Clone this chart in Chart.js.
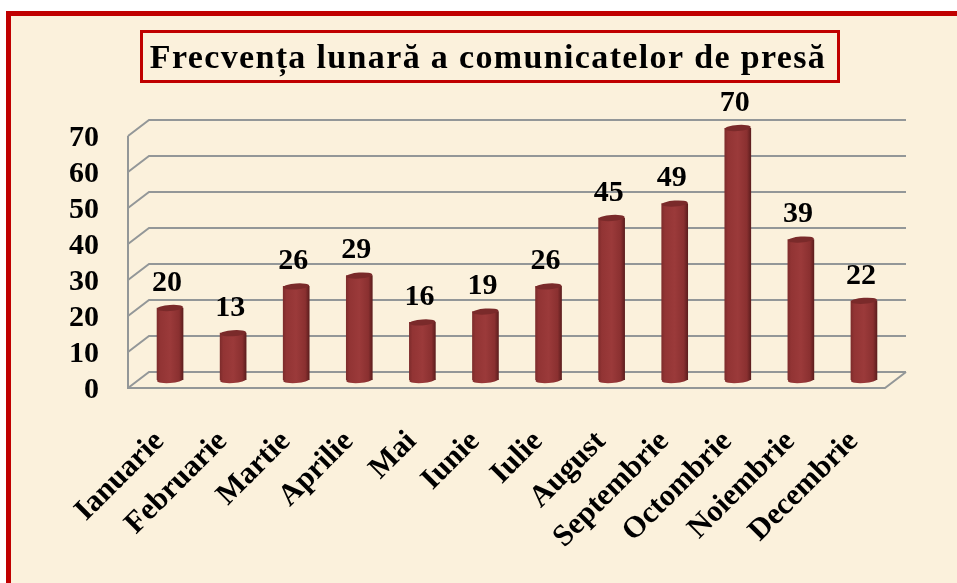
<!DOCTYPE html>
<html lang="ro">
<head>
<meta charset="utf-8">
<title>Frecvența lunară a comunicatelor de presă</title>
<script src="https://cdn.jsdelivr.net/npm/chart.js@4"></script>
<style>
  html, body { margin: 0; padding: 0; background: #fff; overflow: hidden; }
  #frame {
    position: absolute; left: 6px; top: 11px; width: 951px; height: 572px;
    background: #fbf1dc; border-left: 5px solid #c00000; border-top: 5px solid #c00000;
    box-sizing: border-box;
  }
  #chart { position: absolute; left: 0; top: 16px; }
</style>
</head>
<body>
<div id="frame"></div>
<canvas id="chart" width="957" height="567"></canvas>
<script>
const titleText = 'Frecvența lunară a comunicatelor de presă';
const months = ['Ianuarie', 'Februarie', 'Martie', 'Aprilie', 'Mai', 'Iunie', 'Iulie', 'August', 'Septembrie', 'Octombrie', 'Noiembrie', 'Decembrie'];
const counts = [20, 13, 26, 29, 16, 19, 26, 45, 49, 70, 39, 22];

const serif = '"Liberation Serif", "Times New Roman", serif';
const gridColor = '#939798';
const frameRed = '#c00000';
const depthX = 21;
const depthY = 16;
const barWidth = 26;
const capTilt = -0.07;

function barGradient(ctx) {
  const chart = ctx.chart;
  if (!chart.chartArea) return '#963535';
  const x = chart.scales.x.getPixelForValue(ctx.dataIndex);
  const g = chart.ctx.createLinearGradient(x - barWidth / 2, 0, x + barWidth / 2, 0);
  g.addColorStop(0, '#7e2c2c');
  g.addColorStop(0.12, '#923434');
  g.addColorStop(0.5, '#9b3a3a');
  g.addColorStop(0.85, '#8a3030');
  g.addColorStop(1, '#5e1e1e');
  return g;
}

// walls and floor of the fake 3D box, taken from the y ticks
const box3d = {
  id: 'box3d',
  afterLayout(chart) {
    // title is centred on the box, not on the canvas
    const block = chart.titleBlock;
    block.left = 91;
    block.right = chart.chartArea.right;
  },
  beforeDraw(chart) {
    // the title plugin has no letter spacing option
    const block = chart.titleBlock;
    if (block.spaced) return;
    const drawTitle = block.draw.bind(block);
    block.draw = (area) => {
      chart.ctx.letterSpacing = '1.35px';
      drawTitle(area);
      chart.ctx.letterSpacing = '0px';
    };
    block.spaced = true;
  },
  beforeDatasetsDraw(chart) {
    const { ctx, chartArea, scales } = chart;
    const { left, right, bottom, top } = chartArea;
    ctx.save();
    ctx.strokeStyle = gridColor;
    ctx.lineWidth = 2;
    scales.y.ticks.forEach((t) => {
      const y = scales.y.getPixelForValue(t.value);
      ctx.beginPath();
      ctx.moveTo(left, y);
      ctx.lineTo(left + depthX, y - depthY);
      ctx.lineTo(right + depthX, y - depthY);
      ctx.stroke();
    });
    ctx.beginPath();
    ctx.moveTo(left, top);
    ctx.lineTo(left, bottom);
    ctx.lineTo(right, bottom);
    ctx.lineTo(right + depthX, bottom - depthY);
    ctx.stroke();
    ctx.restore();

    // bars stand in the middle of the floor
    ctx.save();
    ctx.translate(depthX / 2, -depthY / 2);
  },
  afterDatasetsDraw(chart) {
    const ctx = chart.ctx;
    chart.getDatasetMeta(0).data.forEach((bar, i) => {
      const r = bar.width / 2;
      ctx.fillStyle = barGradient({ chart, dataIndex: i });
      ctx.beginPath();
      ctx.ellipse(bar.x, bar.base, r, 3, capTilt, 0, Math.PI * 2);
      ctx.fill();
      ctx.fillStyle = '#7a2a2a';
      ctx.beginPath();
      ctx.ellipse(bar.x, bar.y, r, 3, capTilt, 0, Math.PI * 2);
      ctx.fill();
      ctx.fillStyle = '#000';
      ctx.font = 'bold 30px ' + serif;
      ctx.textAlign = 'center';
      ctx.textBaseline = 'middle';
      ctx.fillText(counts[i], bar.x - 3, bar.y - 25);
    });
    ctx.restore();
  },
  afterDraw(chart) {
    const { ctx, titleBlock } = chart;
    const w = 697;
    const cx = (titleBlock.left + titleBlock.right) / 2 + 2;
    ctx.save();
    ctx.strokeStyle = frameRed;
    ctx.lineWidth = 3;
    ctx.strokeRect(cx - w / 2, 15.5, w, 50);
    ctx.restore();
  },
};

new Chart(document.getElementById('chart'), {
  type: 'bar',
  data: {
    labels: months,
    datasets: [{
      data: counts,
      backgroundColor: barGradient,
      barThickness: barWidth,
      borderWidth: 0,
    }],
  },
  options: {
    responsive: false,
    animation: false,
    layout: { padding: { left: 0, right: 72, top: 0, bottom: 0 } },
    plugins: {
      legend: { display: false },
      tooltip: { enabled: false },
      title: {
        display: true,
        text: titleText,
        color: '#000',
        font: { family: serif, size: 34, weight: 'bold', lineHeight: 1.2 },
        padding: { top: 22.5, bottom: 56.7 },
      },
    },
    scales: {
      x: {
        grid: { display: false },
        border: { display: false },
        afterFit: (s) => { s.height = 195; },
        ticks: {
          autoSkip: false,
          minRotation: 45,
          maxRotation: 45,
          padding: 28,
          color: '#000',
          font: { family: serif, size: 30.5, weight: 'bold' },
        },
      },
      y: {
        min: 0,
        max: 70,
        grid: { display: false },
        border: { display: false },
        afterFit: (s) => { s.width = 128; },
        ticks: {
          stepSize: 10,
          autoSkip: false,
          padding: 21,
          labelOffset: 2.5,
          color: '#000',
          font: { family: serif, size: 30, weight: 'bold' },
        },
      },
    },
  },
  plugins: [box3d],
});
</script>
</body>
</html>
